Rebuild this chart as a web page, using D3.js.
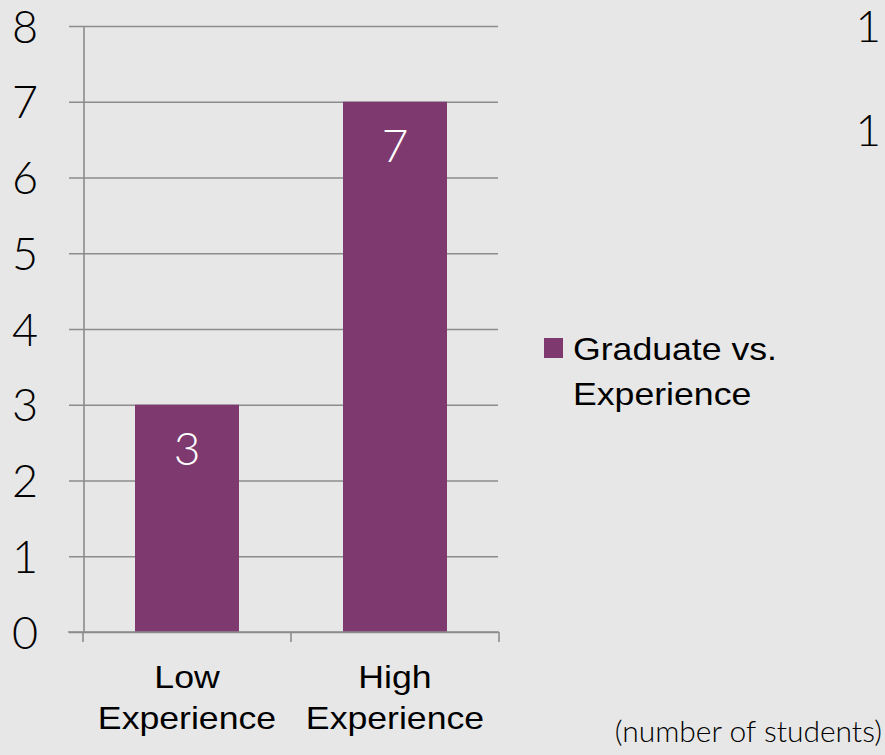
<!DOCTYPE html>
<html>
<head>
<meta charset="utf-8">
<script src="https://cdn.jsdelivr.net/npm/d3@7"></script>
<style>
  html, body { margin: 0; padding: 0; background: #e7e7e7; }
  svg { display: block; }
  .num { font-family: "Lato", "DejaVu Sans", sans-serif; font-weight: 300; }
  .arial { font-family: "Liberation Sans", Arial, sans-serif; }
</style>
</head>
<body>
<script>
// Chart data
const categories = ["Low Experience", "High Experience"];
const categoryLines = [["Low", "Experience"], ["High", "Experience"]];
const values = [3, 7];
const seriesName = ["Graduate vs.", "Experience"];
const yTicks = [0, 1, 2, 3, 4, 5, 6, 7, 8];
const sideMarks = ["1", "1"];
const note = "(number of students)";

const W = 885, H = 755;
const barColor = "#7e3a6f";
const gridColor = "#8c8c8c";

const svg = d3.select("body").append("svg")
  .attr("width", W).attr("height", H);

svg.append("rect").attr("width", W).attr("height", H).attr("fill", "#e7e7e7");

// Plot frame
const plotLeft = 84, plotRight = 498, plotTop = 26, plotBottom = 632;

const y = d3.scaleLinear().domain([0, 8]).range([plotBottom, plotTop]);
const x = d3.scaleBand().domain(categories).range([83, 499]).padding(0);

// Gridlines + y labels
const yAxis = d3.axisLeft(y)
  .tickValues(yTicks)
  .tickFormat(d3.format("d"))
  .tickSizeInner(-(plotRight - plotLeft))
  .tickSizeOuter(0)
  .tickPadding(46);

const gy = svg.append("g").attr("transform", `translate(${plotLeft},0)`).call(yAxis);
gy.select(".domain").remove();
gy.selectAll(".tick line")
  .attr("x1", -15)
  .attr("stroke", gridColor)
  .attr("stroke-width", 1.6);
gy.selectAll(".tick text")
  .attr("class", "num")
  .attr("fill", "#000")
  .attr("font-size", 45)
  .attr("dy", "0.36em");

// Vertical axis line
svg.append("line")
  .attr("x1", plotLeft).attr("x2", plotLeft)
  .attr("y1", y(8)).attr("y2", plotBottom)
  .attr("stroke", gridColor).attr("stroke-width", 1.6);

// Bars
svg.append("g").selectAll("rect")
  .data(values)
  .join("rect")
  .attr("x", (d, i) => x(categories[i]) + x.bandwidth() * 0.25)
  .attr("width", x.bandwidth() * 0.5)
  .attr("y", d => y(d))
  .attr("height", d => plotBottom - y(d))
  .attr("fill", barColor);

// Value labels inside bars
svg.append("g").selectAll("text")
  .data(values)
  .join("text")
  .attr("class", "num")
  .attr("x", (d, i) => x(categories[i]) + x.bandwidth() / 2)
  .attr("y", d => y(d) + 44)
  .attr("dy", "0.36em")
  .attr("text-anchor", "middle")
  .attr("font-size", 46)
  .attr("fill", "#fff")
  .text(d => d);

// Horizontal category axis with ticks at band edges
const gx = svg.append("g");
gx.append("line")
  .attr("x1", 68).attr("x2", 499)
  .attr("y1", plotBottom).attr("y2", plotBottom)
  .attr("stroke", gridColor).attr("stroke-width", 1.6);
const edges = categories.map(c => x(c)).concat([x(categories[categories.length - 1]) + x.bandwidth()]);
gx.selectAll("line.tk")
  .data(edges)
  .join("line")
  .attr("class", "tk")
  .attr("x1", d => d).attr("x2", d => d)
  .attr("y1", plotBottom).attr("y2", plotBottom + 10)
  .attr("stroke", gridColor).attr("stroke-width", 1.6);

const sx = 1.15;
categories.forEach((c, i) => {
  const cx = x(c) + x.bandwidth() / 2;
  const t = gx.append("text")
    .attr("class", "arial")
    .attr("font-size", 31)
    .attr("fill", "#000")
    .attr("text-anchor", "middle")
    .attr("transform", `translate(${cx},0) scale(${sx},1)`);
  categoryLines[i].forEach((line, j) => {
    t.append("tspan").attr("x", 0).attr("y", 688 + j * 41).text(line);
  });
});

// Legend
const lg = svg.append("g");
lg.append("rect")
  .attr("x", 544).attr("y", 338).attr("width", 19).attr("height", 20)
  .attr("fill", barColor);
const lt = lg.append("text")
  .attr("class", "arial")
  .attr("font-size", 31)
  .attr("fill", "#000")
  .attr("transform", `translate(573,0) scale(${sx},1)`);
seriesName.forEach((line, j) => {
  lt.append("tspan").attr("x", 0).attr("y", 360 + j * 45).text(line);
});

// Marks at the right edge
svg.append("g").selectAll("text")
  .data(sideMarks)
  .join("text")
  .attr("class", "num")
  .attr("x", 881)
  .attr("y", (d, i) => 26 + i * 104)
  .attr("dy", "0.36em")
  .attr("text-anchor", "end")
  .attr("font-size", 44)
  .attr("fill", "#000")
  .text(d => d);

// Unit note
svg.append("text")
  .attr("class", "num")
  .attr("x", 882).attr("y", 742)
  .attr("text-anchor", "end")
  .attr("font-size", 30)
  .attr("fill", "#000")
  .text(note);
</script>
</body>
</html>
